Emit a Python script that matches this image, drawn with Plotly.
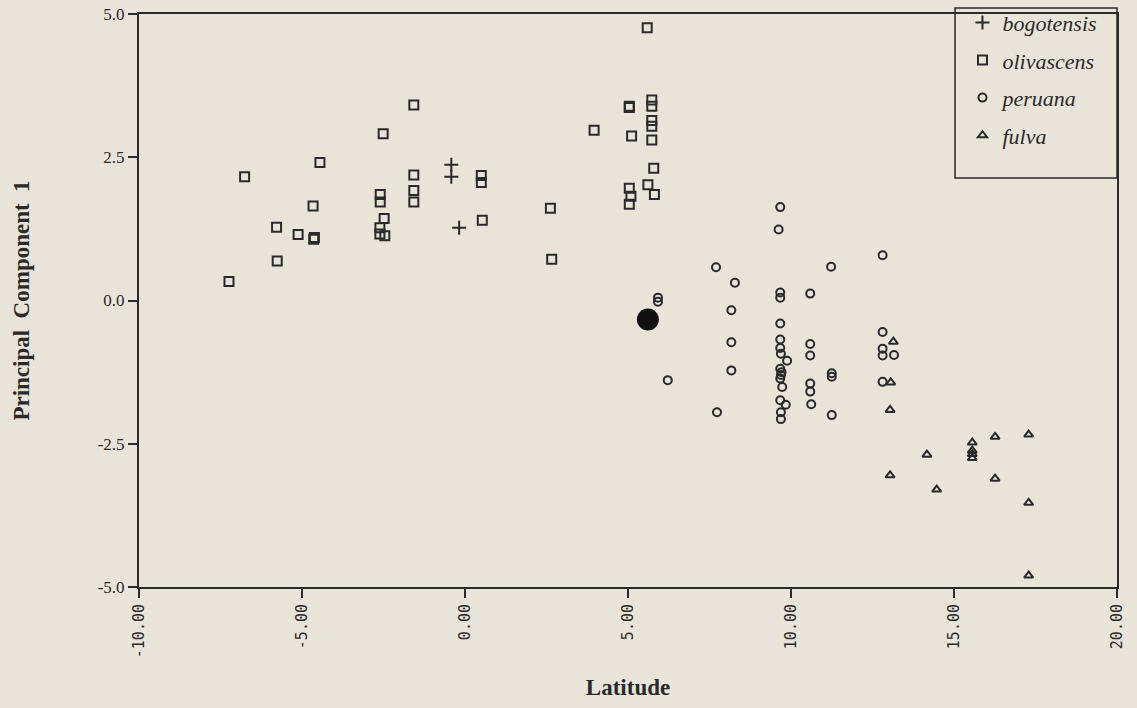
import plotly.graph_objects as go

# ---- data ----
bogo_x = [-0.42, -0.42, -0.18]
bogo_y = [2.37, 2.16, 1.27]

oliv_x = [-7.24, -6.76, -5.78, -5.76, -5.12, -4.66, -4.64, -4.62, -4.45,
          -2.61, -2.61, -2.60, -2.60, -2.51, -2.48, -2.46,
          -1.57, -1.57, -1.57, -1.57, 0.50, 0.50, 0.53, 2.62, 2.66, 3.96,
          5.04, 5.04, 5.04, 5.04, 5.09, 5.11, 5.59, 5.61,
          5.73, 5.73, 5.73, 5.73, 5.73, 5.79, 5.81]
oliv_y = [0.33, 2.16, 1.28, 0.69, 1.15, 1.65, 1.07, 1.10, 2.41,
          1.27, 1.16, 1.85, 1.72, 2.91, 1.43, 1.13,
          3.41, 2.19, 1.92, 1.72, 2.18, 2.06, 1.40, 1.61, 0.72, 2.97,
          3.39, 3.37, 1.96, 1.68, 1.82, 2.87, 4.76, 2.02,
          3.50, 3.39, 3.14, 3.04, 2.80, 2.31, 1.85]

peru_x = [9.67, 9.62, 12.81, 7.70, 11.23, 8.28, 9.67, 9.67, 10.59, 5.92, 5.92,
          8.17, 9.67, 12.81, 8.17, 9.67, 9.67, 10.59, 12.81, 12.81, 13.16,
          9.69, 9.88, 10.59, 9.67, 9.71, 9.69, 9.67, 9.73, 8.17, 11.25, 11.25,
          10.59, 10.59, 6.22, 12.81, 9.67, 9.84, 10.62, 7.73, 9.69, 9.69, 11.25]
peru_y = [1.63, 1.24, 0.79, 0.58, 0.59, 0.31, 0.14, 0.05, 0.12, 0.05, -0.02,
          -0.17, -0.40, -0.55, -0.73, -0.68, -0.83, -0.76, -0.84, -0.96, -0.95,
          -0.93, -1.05, -0.96, -1.19, -1.25, -1.30, -1.36, -1.51, -1.22, -1.27, -1.33,
          -1.45, -1.59, -1.39, -1.42, -1.74, -1.82, -1.81, -1.95, -1.95, -2.07, -2.00]

fulv_x = [13.14, 13.06, 13.04, 16.26, 17.29, 15.56, 15.56, 15.56, 15.56,
          14.17, 13.04, 16.26, 14.47, 17.29, 17.29]
fulv_y = [-0.72, -1.43, -1.91, -2.38, -2.34, -2.48, -2.62, -2.68, -2.75,
          -2.69, -3.05, -3.11, -3.30, -3.53, -4.80]

big_x = [5.61]
big_y = [-0.33]

x_ticks = [-10, -5, 0, 5, 10, 15, 20]
x_ticktext = ["-10.00", "-5.00", "0.00", "5.00", "10.00", "15.00", "20.00"]
y_ticks = [-5, -2.5, 0, 2.5, 5]
y_ticktext = ["-5.0", "-2.5", "0.0", "2.5", "5.0"]

INK = "#2a2a2a"
BG = "#e9e4d9"
SERIF = "Liberation Serif, Times New Roman, serif"

fig = go.Figure()
fig.add_trace(go.Scatter(x=bogo_x, y=bogo_y, mode="markers", name="bogotensis",
                         legendgroup="a",
                         marker=dict(symbol="cross-thin", size=10,
                                     line=dict(color=INK, width=2))))
fig.add_trace(go.Scatter(x=oliv_x, y=oliv_y, mode="markers", name="olivascens",
                         legendgroup="b",
                         marker=dict(symbol="square-open", size=9, color=INK,
                                     line=dict(color=INK, width=2))))
fig.add_trace(go.Scatter(x=peru_x, y=peru_y, mode="markers", name="peruana",
                         legendgroup="c",
                         marker=dict(symbol="circle-open", size=8, color=INK,
                                     line=dict(color=INK, width=2))))
fig.add_trace(go.Scatter(x=fulv_x, y=fulv_y, mode="markers", name="fulva",
                         legendgroup="d",
                         marker=dict(symbol="triangle-up-open", size=8, color=INK,
                                     line=dict(color=INK, width=2))))
fig.add_trace(go.Scatter(x=big_x, y=big_y, mode="markers", showlegend=False,
                         marker=dict(symbol="circle", size=22, color="#111111")))

fig.update_layout(
    width=1137, height=708, autosize=False,
    margin=dict(l=139, r=20, t=14, b=121, autoexpand=False),
    paper_bgcolor=BG, plot_bgcolor=BG,
    font=dict(family=SERIF, color=INK),
    showlegend=True,
    legend=dict(x=0.842, y=1.0216, xanchor="left", yanchor="top",
                bgcolor="rgba(0,0,0,0)", borderwidth=0, tracegroupgap=6,
                font=dict(family=SERIF, size=22, style="italic", color=INK)),
    shapes=[dict(type="rect", xref="paper", yref="paper",
                 x0=0.8344, x1=1.0, y0=0.7138, y1=1.0105,
                 line=dict(color=INK, width=1.5), fillcolor="rgba(0,0,0,0)")],
    xaxis=dict(range=[-10, 20], tickvals=x_ticks, ticktext=x_ticktext,
               tickangle=-90, ticks="outside", ticklen=9, tickwidth=1.5,
               tickcolor=INK, showline=True, mirror=True, linecolor=INK,
               linewidth=2, showgrid=False, zeroline=False,
               tickfont=dict(family="DejaVu Sans Mono", size=15, color=INK),
               title=dict(text="<b>Latitude</b>", standoff=22,
                          font=dict(family=SERIF, size=23, color=INK))),
    yaxis=dict(range=[-5, 5], tickvals=y_ticks, ticktext=y_ticktext,
               ticks="outside", ticklen=9, tickwidth=1.5, tickcolor=INK,
               showline=True, mirror=True, linecolor=INK, linewidth=2,
               showgrid=False, zeroline=False,
               tickfont=dict(family=SERIF, size=17, color=INK),
               title=dict(text="<b>Principal  Component  1</b>", standoff=62,
                          font=dict(family=SERIF, size=23, color=INK))),
)

fig.write_html(
    "out.html",
    config={"displayModeBar": False},
    post_script="document.body.style.margin='0';"
                "document.body.style.background='" + BG + "';",
)
